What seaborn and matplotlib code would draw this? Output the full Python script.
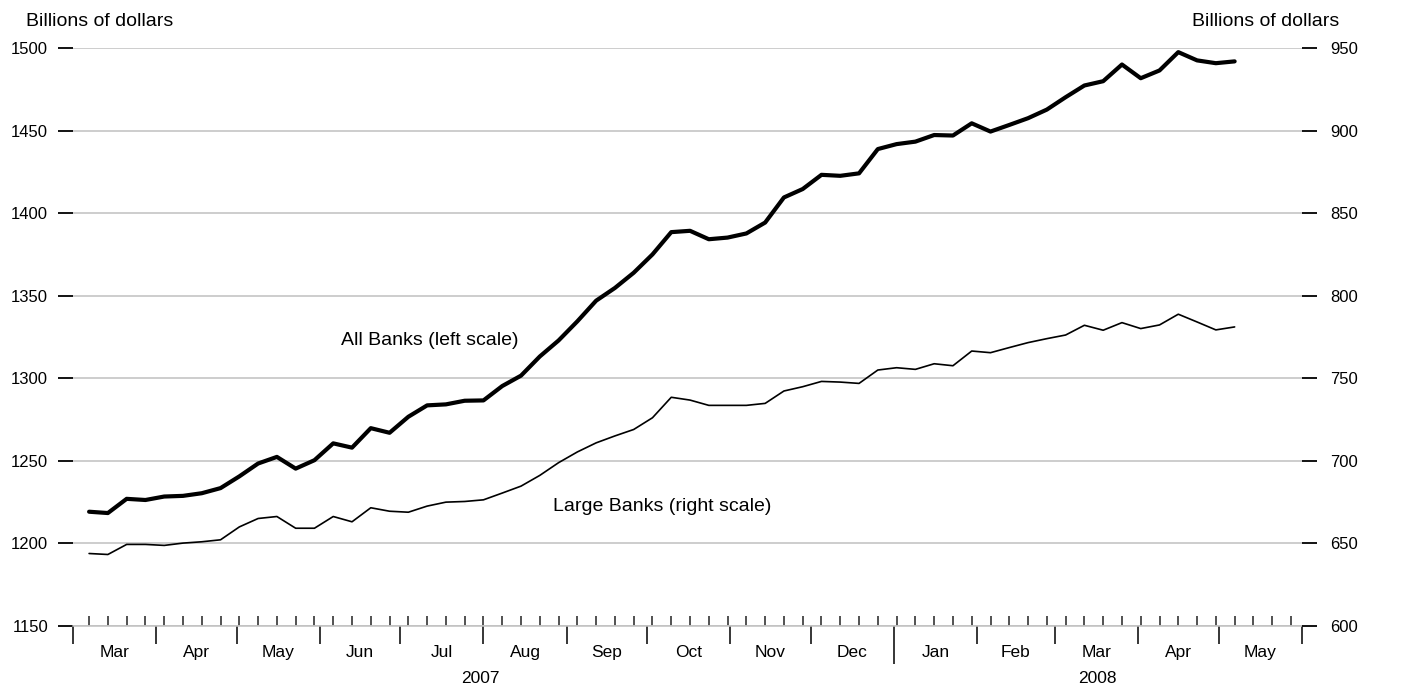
import pandas as pd
import numpy as np
import seaborn as sns
import matplotlib
matplotlib.use("Agg")
import matplotlib.pyplot as plt
import matplotlib.dates as mdates

# weekly data, Wednesdays from 7 Mar 2007
weeks = pd.date_range("2007-03-07", periods=62, freq="7D")

all_banks = [1219.2, 1218.4, 1227.0, 1226.3, 1228.4, 1228.8, 1230.4, 1233.5, 1240.6, 1248.4,
             1252.4, 1245.3, 1250.4, 1260.6, 1258.0, 1269.8, 1267.0, 1276.7, 1283.6, 1284.2,
             1286.4, 1286.6, 1295.3, 1301.6, 1313.2, 1322.9, 1334.5, 1347.0, 1354.7, 1363.9,
             1375.0, 1388.5, 1389.3, 1384.2, 1385.2, 1387.7, 1394.3, 1409.5, 1414.6, 1423.2,
             1422.6, 1424.1, 1438.8, 1441.8, 1443.3, 1447.3, 1447.0, 1454.4, 1449.4, 1453.4,
             1457.5, 1462.7, 1470.2, 1477.3, 1479.9, 1490.0, 1481.7, 1486.4, 1497.5, 1492.5,
             1490.8, 1491.9]

large_banks = [643.9, 643.3, 649.4, 649.4, 648.8, 650.2, 651.0, 652.2, 660.0, 665.1,
               666.3, 659.2, 659.2, 666.3, 663.1, 671.6, 669.5, 668.9, 672.6, 675.0,
               675.4, 676.4, 680.5, 684.7, 691.2, 698.9, 705.4, 710.9, 715.1, 719.0,
               726.1, 738.5, 736.8, 733.6, 733.6, 733.6, 734.8, 742.3, 744.9, 748.1,
               747.7, 746.9, 755.0, 756.4, 755.4, 758.8, 757.6, 766.5, 765.5, 768.6,
               771.6, 774.0, 776.2, 782.1, 779.1, 783.7, 780.1, 782.3, 788.8, 784.1,
               779.3, 781.1]

left_ticks = [1150, 1200, 1250, 1300, 1350, 1400, 1450, 1500]
right_ticks = [600, 650, 700, 750, 800, 850, 900, 950]
month_labels = ["Mar", "Apr", "May", "Jun", "Jul", "Aug", "Sep", "Oct", "Nov", "Dec",
                "Jan", "Feb", "Mar", "Apr", "May"]
year_labels = ["2007", "2008"]

df = pd.DataFrame({"week": weeks, "all": all_banks, "large": large_banks})

sns.set_style("white")
plt.rcParams["font.family"] = ["Liberation Sans", "DejaVu Sans"]
plt.rcParams["text.color"] = "black"
plt.rcParams["xtick.color"] = "black"
plt.rcParams["ytick.color"] = "black"

fig = plt.figure(figsize=(14.05, 6.9), dpi=100)
ax = fig.add_axes([73 / 1405, 1 - 626 / 690, (1301.7 - 73) / 1405, (626 - 48) / 690])

sns.lineplot(data=df, x="week", y="all", ax=ax, color="black", linewidth=3.0)
ax2 = ax.twinx()
sns.lineplot(data=df, x="week", y="large", ax=ax2, color="black", linewidth=1.2)

ax.set_ylim(1150, 1500)
ax2.set_ylim(600, 950)
ax.set_yticks(left_ticks)
ax2.set_yticks(right_ticks)
ax.set_xlabel("")
ax.set_ylabel("")
ax2.set_ylabel("")

month_starts = pd.date_range("2007-03-01", "2008-06-01", freq="MS")
ax.set_xlim(month_starts[0], month_starts[-1])
ax.set_xticks(month_starts)
ax.set_xticklabels([])
tick_weeks = pd.date_range("2007-03-07", "2008-05-28", freq="7D")
ax.set_xticks(tick_weeks, minor=True)
ax.xaxis.remove_overlapping_locs = False

ax.grid(axis="y", color="#c0c0c0", linewidth=1.1)
ax.grid(axis="x", visible=False)
for s in ["left", "right", "top"]:
    ax.spines[s].set_visible(False)
for s in ["left", "right", "top", "bottom"]:
    ax2.spines[s].set_visible(False)
ax.spines["bottom"].set_color("#c0c0c0")
ax.spines["bottom"].set_linewidth(1.1)

ax.tick_params(axis="y", direction="out", length=11, width=1.3, colors="black",
               pad=7, labelsize=12, left=True)
ax2.tick_params(axis="y", direction="out", length=11, width=1.3, colors="black",
                pad=9.5, labelsize=12, right=True)
ax.tick_params(axis="x", which="major", direction="out", length=13, width=1.1,
               color="black", bottom=True)
ax.tick_params(axis="x", which="minor", direction="in", length=7, width=1.1,
               color="#222222", bottom=True)

# longer tick at the year boundary
for t, d in zip(ax.xaxis.get_major_ticks(), month_starts):
    if d == pd.Timestamp("2008-01-01"):
        t.tick1line.set_markersize(27)

# month and year labels
xt = ax.get_xaxis_transform()
for i, lab in enumerate(month_labels):
    mid = mdates.date2num(month_starts[i]) + (mdates.date2num(month_starts[i + 1]) -
                                               mdates.date2num(month_starts[i])) / 2
    ax.text(mid, -0.045, lab, transform=xt, ha="center", va="center", fontsize=12.5)
ax.text(mdates.date2num(pd.Timestamp("2007-07-31")), -0.09, year_labels[0], transform=xt,
        ha="center", va="center", fontsize=12.5)
ax.text(mdates.date2num(pd.Timestamp("2008-03-17")), -0.09, year_labels[1], transform=xt,
        ha="center", va="center", fontsize=12.5)

ax.text(mdates.date2num(pd.Timestamp("2007-06-09")), 1323, "All Banks (left scale)",
        fontsize=14, va="center", ha="left")
ax.text(mdates.date2num(pd.Timestamp("2007-08-27")), 1222.6, "Large Banks (right scale)",
        fontsize=14, va="center", ha="left")

fig.text(26 / 1405, 1 - 21 / 690, "Billions of dollars", fontsize=14, va="center", ha="left")
fig.text(1339 / 1405, 1 - 21 / 690, "Billions of dollars", fontsize=14, va="center", ha="right")

fig.savefig("out.png", dpi=100)
